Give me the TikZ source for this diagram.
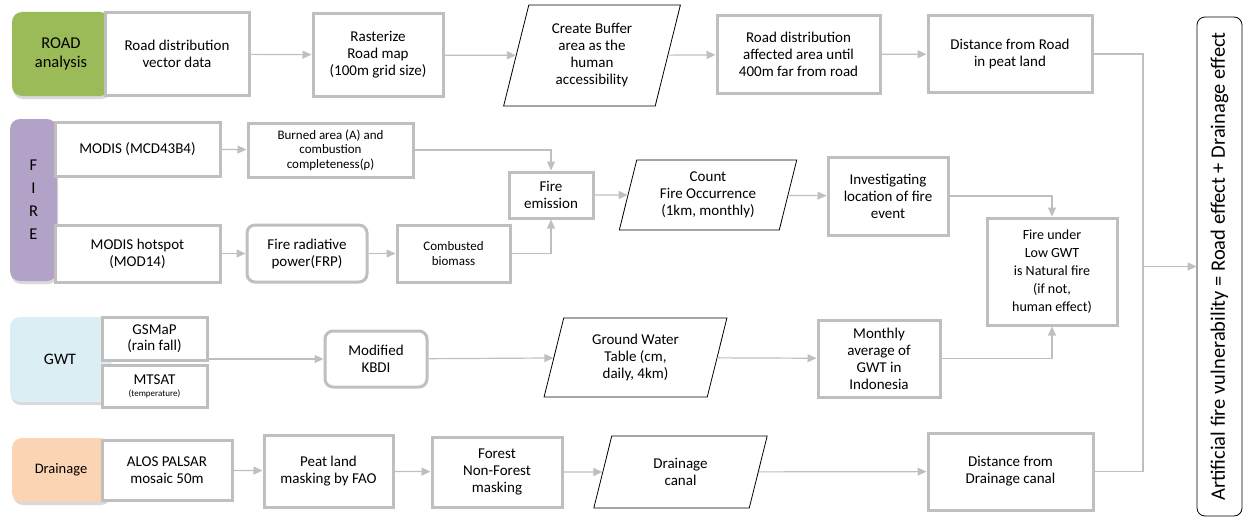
\documentclass[tikz,border=0pt]{standalone}
\usepackage{fontspec}
\setmainfont{Carlito}
\usetikzlibrary{shapes.geometric,arrows.meta,shadows}
\definecolor{BoxGray}{HTML}{BFBFBF}
\definecolor{RoadGreen}{HTML}{9BBB59}
\definecolor{FirePurple}{HTML}{B3A2C7}
\definecolor{GwtBlue}{HTML}{DBEEF4}
\definecolor{DrainPeach}{HTML}{FBD4B4}

\begin{document}
\begin{tikzpicture}[
  x=1pt,y=-1pt,font=\fontsize{15}{17}\selectfont,
  box/.style={draw=BoxGray,line width=3pt,fill=white,align=center,inner sep=1pt},
  softbox/.style={box,rounded corners=8pt},
  datain/.style={trapezium,trapezium left angle=76,trapezium right angle=104,
    draw=black,line width=0.8pt,fill=white,align=center,inner sep=1pt},
  topic/.style={rounded corners=10pt,align=center,font=\fontsize{16.5}{19}\selectfont,
    drop shadow={shadow xshift=1pt,shadow yshift=-3pt,opacity=0.3}},
  flow/.style={draw=BoxGray,line width=1.2pt,-{Triangle[length=9pt,width=8pt]}},
  busline/.style={draw=BoxGray,line width=1.2pt},
]
\useasboundingbox (0,0) rectangle (1244,519);

% ROAD
\node[topic,fill=RoadGreen,minimum width=98pt,minimum height=84pt,
  text width=70pt,xshift=-12pt] (road) at (73,54) {ROAD\\analysis};
\node[box,minimum width=144pt,minimum height=82pt] (roadvec) at (177,54)
  {Road distribution\\vector data};
\node[box,minimum width=130pt,minimum height=82pt] (raster) at (378,55)
  {Rasterize\\Road map\\(100m grid size)};
\node[datain,minimum width=170pt,minimum height=101pt] (buffer) at (592,55.5)
  {Create Buffer\\area as the\\human\\accessibility};
\node[box,minimum width=163pt,minimum height=77pt] (roadaff) at (798.5,54.5)
  {Road distribution\\affected area until\\400m far from road};
\node[box,minimum width=164pt,minimum height=76pt] (roaddist) at (1010,54)
  {Distance from Road\\in peat land};

% FIRE
\node[topic,fill=FirePurple,minimum width=47pt,minimum height=162pt,
  font=\fontsize{16.5}{23}\selectfont] (fire) at (33.5,200) {F\\I\\R\\E};
\node[box,minimum width=165pt,minimum height=54pt] (mcd) at (137.5,149)
  {MODIS (MCD43B4)};
\node[box,minimum width=165pt,minimum height=57pt] (hotspot) at (137.5,253.5)
  {MODIS hotspot\\(MOD14)};
\node[box,minimum width=165pt,minimum height=54pt,
  font=\fontsize{13}{14.5}\selectfont] (burned) at (330.5,150)
  {Burned area (A) and\\combustion\\completeness(ρ)};
\node[softbox,minimum width=120pt,minimum height=57pt] (frp) at (307,253.5)
  {Fire radiative\\power(FRP)};
\node[box,minimum width=113pt,minimum height=57pt,
  font=\fontsize{13}{15}\selectfont] (biomass) at (453.5,253.5)
  {Combusted\\biomass};
\node[box,minimum width=84pt,minimum height=46pt] (emission) at (551,195)
  {Fire\\emission};
\node[datain,minimum width=170pt,minimum height=70pt] (count) at (708,195)
  {Count\\Fire Occurrence\\(1km, monthly)};
\node[box,minimum width=120pt,minimum height=78pt] (investig) at (888,196)
  {Investigating\\location of fire\\event};
\node[box,minimum width=130pt,minimum height=107pt,
  font=\fontsize{14}{18}\selectfont] (natural) at (1052,271.5)
  {Fire under\\Low GWT\\is Natural fire\\(if not,\\human effect)};

% GWT
\node[topic,fill=GwtBlue,minimum width=100pt,minimum height=85pt,
  text width=70pt,xshift=-10pt,font=\fontsize{16}{19}\selectfont] (gwt) at (70,359.5) {GWT};
\node[box,minimum width=105pt,minimum height=43pt,
  font=\fontsize{15}{16}\selectfont] (gsmap) at (154.5,338.5)
  {GSMaP\\(rain fall)};
\node[box,minimum width=105pt,minimum height=42pt] (mtsat) at (154.5,386)
  {MTSAT\\[-5pt]{\fontsize{9}{10}\selectfont(temperature)}};
\node[softbox,minimum width=102pt,minimum height=56pt] (kbdi) at (376,359)
  {Modified\\KBDI};
\node[datain,minimum width=171pt,minimum height=79pt] (gwtable) at (635.5,357.5)
  {Ground Water\\Table (cm,\\daily, 4km)};
\node[box,minimum width=122pt,minimum height=77pt] (monthly) at (879,358.5)
  {Monthly\\average of\\GWT in\\Indonesia};

% Drainage
\node[topic,fill=DrainPeach,minimum width=98pt,minimum height=64pt,
  text width=70pt,xshift=-12pt,font=\fontsize{14.5}{17}\selectfont] (drain) at (73,470)
  {Drainage};
\node[box,minimum width=130pt,minimum height=60pt] (alos) at (167,470)
  {ALOS PALSAR\\mosaic 50m};
\node[box,minimum width=129pt,minimum height=72pt] (peat) at (328.5,471)
  {Peat land\\masking by FAO};
\node[box,minimum width=130pt,minimum height=70pt] (forest) at (497,472)
  {Forest\\Non-Forest\\masking};
\node[datain,minimum width=125pt,minimum height=72pt] (canal) at (680.5,472)
  {Drainage\\canal};
\node[box,minimum width=165pt,minimum height=77pt] (draindist) at (1010.5,471.5)
  {Distance from\\Drainage canal};

% result
\node[draw=black,line width=0.8pt,rounded corners=8pt,rotate=90,
  minimum width=499pt,minimum height=45pt,font=\fontsize{20.5}{22}\selectfont]
  (result) at (1219.5,266.5)
  {Artificial fire vulnerability = Road effect + Drainage effect};
\coordinate (bus) at (1143,266.5);

% connectors
\draw[flow] (roadvec) -- (raster);
\draw[flow] (raster) -- (buffer);
\draw[flow] (buffer) -- (roadaff);
\draw[flow] (roadaff) -- (roaddist);
\draw[flow] (mcd) -- (burned);
\draw[flow] (hotspot) -- (frp);
\draw[flow] (frp) -- (biomass);
\draw[flow] (burned.east) -| (emission.north);
\draw[flow] (biomass.east) -| (emission.south);
\draw[flow] (emission) -- (count);
\draw[flow] (count) -- (investig);
\draw[flow] (investig.east) -| (natural.north);
\draw[flow] (gsmap.east |- kbdi.west) -- (kbdi.west);
\draw[flow] (kbdi) -- (gwtable);
\draw[flow] (gwtable) -- (monthly);
\draw[flow] (monthly.east) -| (natural.south);
\draw[flow] (alos) -- (peat);
\draw[flow] (peat) -- (forest);
\draw[flow] (forest) -- (canal);
\draw[flow] (canal) -- (draindist);
\draw[busline] (roaddist.east) -| (bus);
\draw[busline] (draindist.east) -| (bus);
\draw[flow] (bus) -- (result.north);
\end{tikzpicture}
\end{document}
